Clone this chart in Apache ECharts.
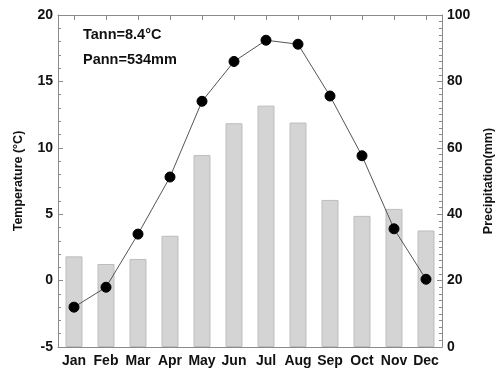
<!DOCTYPE html>
<html><head><meta charset="utf-8">
<script src="https://cdn.jsdelivr.net/npm/echarts@6/dist/echarts.min.js"></script>
<style>html,body{margin:0;padding:0;background:#fff}#c{width:503px;height:371px}</style>
</head><body><div id="c"></div>
<script>
const months = ['Jan','Feb','Mar','Apr','May','Jun','Jul','Aug','Sep','Oct','Nov','Dec'];
const temperature = [-2.0, -0.5, 3.5, 7.8, 13.5, 16.5, 18.1, 17.8, 13.9, 9.4, 3.9, 0.1];
const precipitation = [27.3, 25.0, 26.5, 33.5, 57.8, 67.4, 72.7, 67.6, 44.3, 39.5, 41.6, 35.1];
const annotations = ['Tann=8.4\u00B0C', 'Pann=534mm'];

const F = 'Liberation Sans, Arial, sans-serif';
const axisCol = '#8a8a8a';
const chart = echarts.init(document.getElementById('c'), null, {renderer:'canvas'});
chart.setOption({
  animation:false,
  backgroundColor:'#fff',
  grid:{left:58, right:50, top:15, bottom:24, containLabel:false},
  xAxis:[{
    type:'category', data:months, position:'bottom',
    axisLine:{show:true, onZero:false, lineStyle:{color:axisCol, width:1}},
    axisTick:{show:false},
    axisLabel:{interval:0, color:'#111', fontFamily:F, fontWeight:'bold', fontSize:14, margin:7}
  },{
    type:'category', data:months, position:'top',
    axisLine:{show:true, onZero:false, lineStyle:{color:axisCol, width:1}},
    axisTick:{show:true, inside:true, interval:0, alignWithLabel:true, length:5, lineStyle:{color:axisCol}},
    axisLabel:{show:false}
  }],
  yAxis:[{
    type:'value', min:-5, max:20, interval:5, position:'left',
    name:'Temperature (\u00B0C)', nameLocation:'middle', nameGap:33, nameRotate:90,
    nameTextStyle:{color:'#111', fontFamily:F, fontWeight:'bold', fontSize:12.5},
    axisLine:{show:true, lineStyle:{color:axisCol, width:1}},
    axisTick:{show:true, inside:true, length:5, lineStyle:{color:axisCol}},
    minorTick:{show:true, splitNumber:5, length:3, lineStyle:{color:axisCol}},
    splitLine:{show:false},
    axisLabel:{color:'#111', fontFamily:F, fontWeight:'bold', fontSize:14, margin:5}
  },{
    type:'value', min:0, max:100, interval:20, position:'right',
    name:'Precipitation(mm)', nameLocation:'middle', nameGap:40, nameRotate:90,
    nameTextStyle:{color:'#111', fontFamily:F, fontWeight:'bold', fontSize:12.5},
    axisLine:{show:true, lineStyle:{color:axisCol, width:1}},
    axisTick:{show:true, inside:true, length:5, lineStyle:{color:axisCol}},
    minorTick:{show:true, splitNumber:10, length:3, lineStyle:{color:axisCol}},
    splitLine:{show:false},
    axisLabel:{color:'#111', fontFamily:F, fontWeight:'bold', fontSize:14, margin:5}
  }],
  series:[{
    type:'bar', yAxisIndex:1, xAxisIndex:0, data:precipitation, barWidth:17,
    itemStyle:{color:'#d4d4d4', borderColor:'#bdbdbd', borderWidth:1}
  },{
    type:'line', yAxisIndex:0, xAxisIndex:0, data:temperature,
    symbol:'circle', symbolSize:10,
    lineStyle:{color:'#555', width:1},
    itemStyle:{color:'#000', borderColor:'#000'}, z:5
  }],
  graphic:[
    {type:'text', left:83, top:27, style:{text:annotations[0], font:'bold 14.5px '+F, fill:'#111'}},
    {type:'text', left:83, top:52, style:{text:annotations[1], font:'bold 14.5px '+F, fill:'#111'}}
  ]
});
</script></body></html>
